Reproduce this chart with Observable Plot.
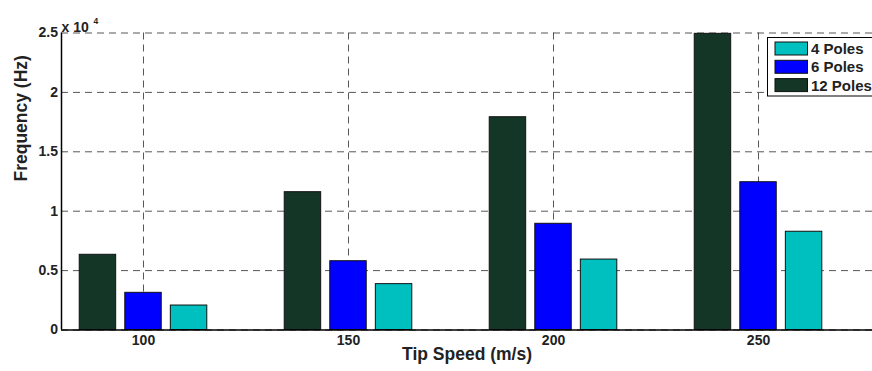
<!DOCTYPE html>
<html>
<head>
<meta charset="utf-8">
<script src="https://cdn.jsdelivr.net/npm/d3@7"></script>
<script src="https://cdn.jsdelivr.net/npm/@observablehq/plot@0.6"></script>
<style>
  html, body { margin: 0; padding: 0; background: #fff; }
  #chart svg { font-family: "Liberation Sans", Arial, sans-serif; font-weight: bold; }
</style>
</head>
<body>
<div id="chart"></div>
<script>
const speeds = [100, 150, 200, 250];
const seriesNames = ["12 Poles", "6 Poles", "4 Poles"];
const poles12 = [6330, 11600, 17910, 24930];
const poles6 = [3130, 5790, 8940, 12440];
const poles4 = [2060, 3860, 5930, 8270];
const yTicks = [0, 5000, 10000, 15000, 20000, 25000];
const legendOrder = ["4 Poles", "6 Poles", "12 Poles"];
const colors = {"12 Poles": "#133626", "6 Poles": "#0000ff", "4 Poles": "#00bfbf"};

const valuesBySeries = {"12 Poles": poles12, "6 Poles": poles6, "4 Poles": poles4};
const rows = speeds.flatMap((s, i) => seriesNames.map((name, k) => ({
  speed: s, series: name, value: valuesBySeries[name][i], k: k - 1
})));

// MATLAB grouped-bar geometry (in x data units)
const step = 50 * (2 / 3) / 3;
const halfW = step * 0.8 / 2;

const plot = Plot.plot({
  width: 872,
  height: 371,
  marginLeft: 61,
  marginRight: 0,
  marginTop: 32.5,
  marginBottom: 41.5,
  x: {domain: [80, 277.8]},
  y: {domain: [0, 25000]},
  color: {domain: seriesNames, range: seriesNames.map(n => colors[n])},
  marks: [
    Plot.gridX(speeds, {stroke: "#444", strokeOpacity: 1, strokeWidth: 0.9, strokeDasharray: "7,5"}),
    Plot.gridY(yTicks, {stroke: "#444", strokeOpacity: 1, strokeWidth: 0.9, strokeDasharray: "7,5"}),
    Plot.rectY(rows, {
      x1: d => d.speed + d.k * step - halfW,
      x2: d => d.speed + d.k * step + halfW,
      y1: 0,
      y2: "value",
      fill: "series",
      stroke: "#111",
      strokeWidth: 1
    }),
    Plot.axisX(speeds, {tickSize: 0, tickPadding: 5, fontSize: 14, label: null, fill: "#222"}),
    Plot.axisY(yTicks, {tickSize: 0, tickPadding: 3.5, fontSize: 14, label: null, fill: "#222",
      tickFormat: d => String(d / 10000)}),
    Plot.ruleY([0], {stroke: "#000", strokeWidth: 1.5}),
    Plot.ruleX([80], {stroke: "#000", strokeWidth: 1.5}),
    Plot.text(["Tip Speed (m/s)"], {frameAnchor: "bottom", dy: 30, fontSize: 17.5, fill: "#222"}),
    Plot.text(["Frequency (Hz)"], {frameAnchor: "left", dx: -40, dy: 0, rotate: -90, fontSize: 17.5, fill: "#222"}),
    Plot.text(["x 10"], {frameAnchor: "top-left", textAnchor: "start", dx: 0, dy: -10.5, fontSize: 14, fill: "#222"}),
    Plot.text(["4"], {frameAnchor: "top-left", textAnchor: "start", dx: 32, dy: -15, fontSize: 8.5, fill: "#222"})
  ]
});

document.getElementById("chart").appendChild(plot);

// Legend inside the axes, top-right
const svg = d3.select(plot);
const lg = svg.append("g").attr("transform", "translate(767.5,37.5)")
  .attr("text-anchor", "start");
lg.append("rect").attr("width", 120).attr("height", 58.5)
  .attr("fill", "#fff").attr("stroke", "#000").attr("stroke-width", 1);
legendOrder.forEach((name, i) => {
  const y = 4.5 + i * 18.3;
  lg.append("rect").attr("x", 7.5).attr("y", y).attr("width", 32.5).attr("height", 13)
    .attr("fill", colors[name]).attr("stroke", "#111").attr("stroke-width", 1);
  lg.append("text").attr("x", 43.5).attr("y", y + 12).style("font-size", "15px")
    .attr("fill", "#222").text(name);
});
</script>
</body>
</html>
